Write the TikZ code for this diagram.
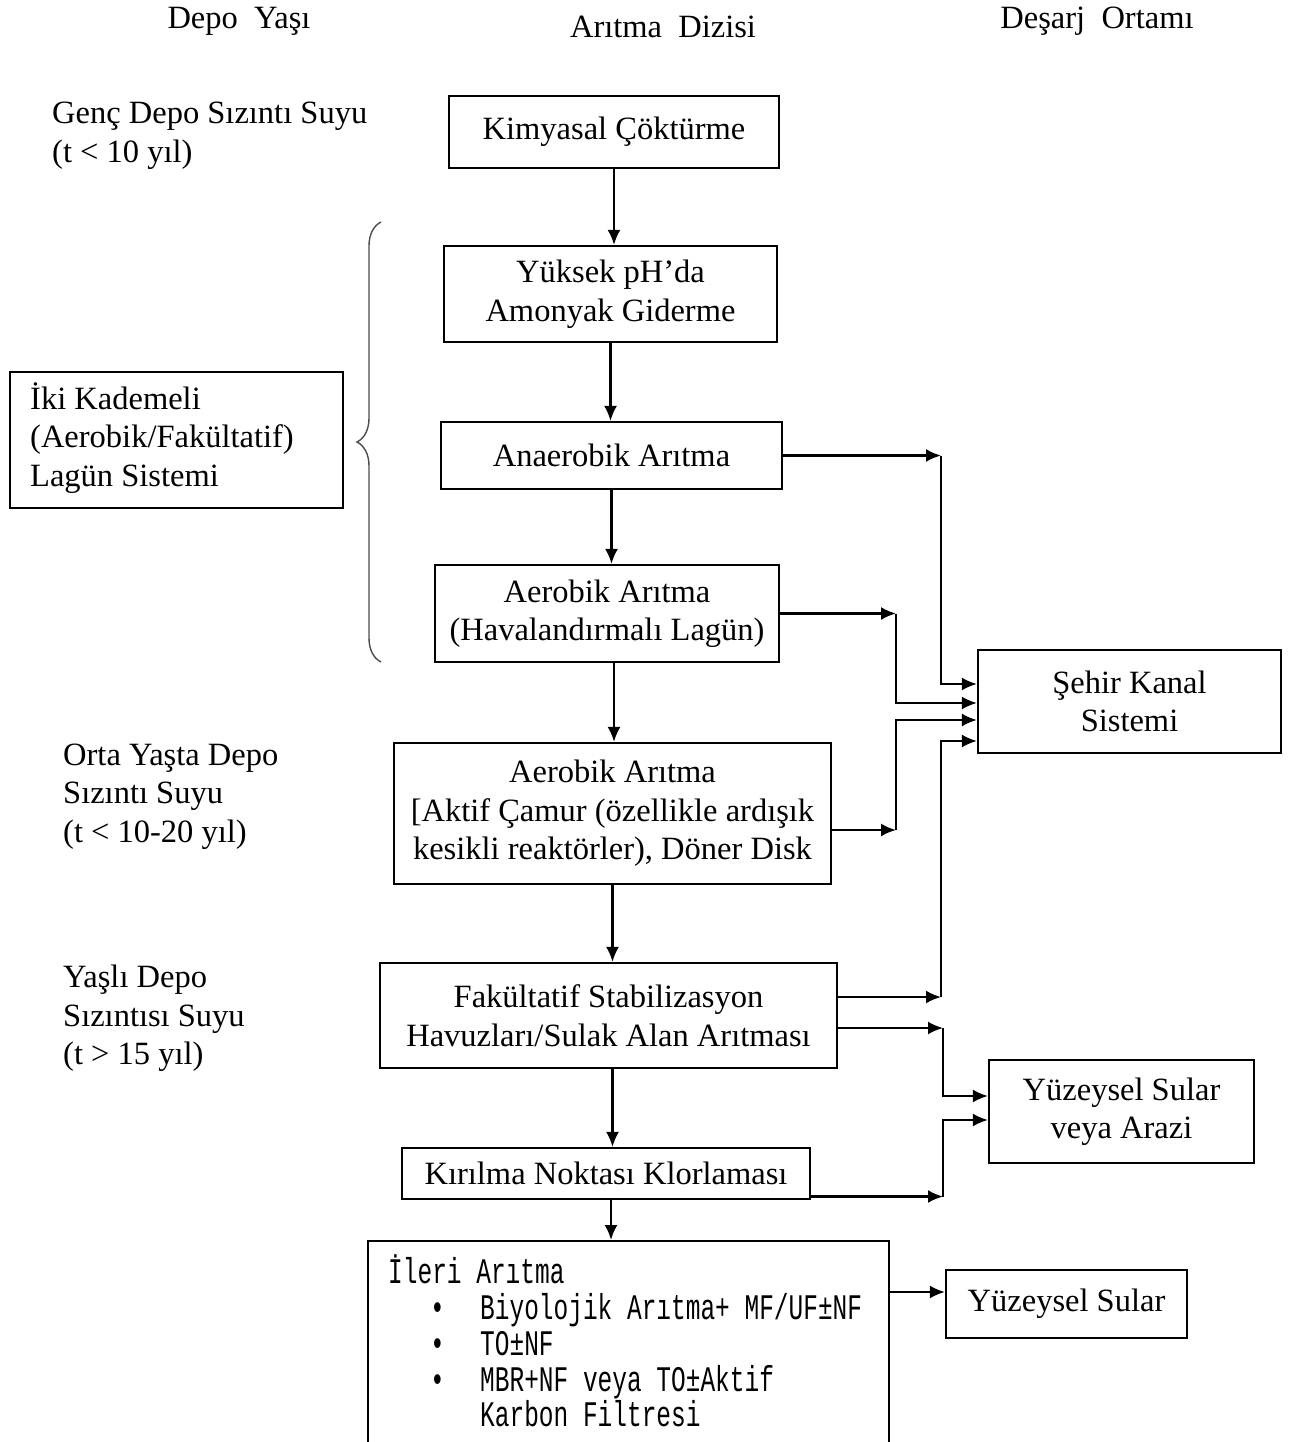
\documentclass[tikz,border=0pt]{standalone}
\usepackage{fontspec}
\setmainfont{Liberation Serif}
\newfontfamily\codefont[FakeStretch=0.68]{Liberation Mono}
\usetikzlibrary{arrows.meta,decorations.pathreplacing,calc}

\newcommand{\itembullet}{\makebox[50pt][l]{•}}

\begin{document}
\begin{tikzpicture}[x=1pt,y=-1pt,
  every node/.style={font=\fontsize{32.5}{38.5}\selectfont, inner sep=0pt},
  box/.style={draw, line width=2.2pt, align=center},
  arr/.style={line width=2.2pt, -{Latex[length=15pt,width=13pt]}},
  hdr/.style={anchor=base},
  side/.style={anchor=west, align=left},
]
\useasboundingbox (0,0) rectangle (1299,1442);
\clip (0,0) rectangle (1299,1442);

% column headings
\node[hdr] (h1) at (239,29) {Depo\ \ Yaşı};
\node[hdr] (h2) at (663,38) {Arıtma\ \ Dizisi};
\node[hdr] (h3) at (1097,29) {Deşarj\ \ Ortamı};

% landfill age labels
\node[side] (genc) at (52,135.5) {Genç Depo Sızıntı Suyu\\(t < 10 yıl)};
\node[side] (orta) at (63,796.5) {Orta Yaşta Depo\\Sızıntı Suyu\\(t < 10-20 yıl)};
\node[side] (yasli) at (63,1018.5) {Yaşlı Depo\\Sızıntısı Suyu\\(t > 15 yıl)};

% lagoon system note with brace
\node[box, minimum width=333pt, minimum height=136pt] (iki) at (176.5,440) {};
\node[side] (ikitext) at (30,438) {İki Kademeli\\(Aerobik/Fakültatif)\\Lagün Sistemi};
\draw[line width=1.4pt, draw=black!70, decorate, decoration={brace, amplitude=24pt, aspect=0.5}]
  (381,662) -- (381,222);

% treatment sequence
\node[box, minimum width=330pt, minimum height=72pt] (kim) at (614,132) {Kimyasal Çöktürme};
\node[box, minimum width=333pt, minimum height=96pt] (yuk) at (610.5,294) {Yüksek pH’da\\Amonyak Giderme};
\node[box, minimum width=341pt, minimum height=67pt] (ana) at (611.5,455.5) {Anaerobik Arıtma};
\node[box, minimum width=344pt, minimum height=97pt] (aer) at (607,613.5) {Aerobik Arıtma\\(Havalandırmalı Lagün)};
\node[box, minimum width=437pt, minimum height=141pt] (akt) at (612.5,813.5) {Aerobik Arıtma\\{[}Aktif Çamur (özellikle ardışık\\kesikli reaktörler), Döner Disk};
\node[box, minimum width=457pt, minimum height=105pt] (fak) at (608.5,1015.5) {Fakültatif Stabilizasyon\\Havuzları/Sulak Alan Arıtması};
\node[box, minimum width=408pt, minimum height=51pt] (kir) at (606,1173.5) {Kırılma Noktası Klorlaması};
\node[box, anchor=north west, minimum width=521pt, minimum height=240pt] (ileri) at (367,1240) {};
\node[anchor=west, align=left, font=\codefont\fontsize{36}{35.8}\selectfont] (ileritext) at (388,1341)
  {İleri Arıtma\\
   \hspace*{42pt}\itembullet Biyolojik Arıtma+ MF/UF±NF\\
   \hspace*{42pt}\itembullet TO±NF\\
   \hspace*{42pt}\itembullet MBR+NF veya TO±Aktif\\
   \hspace*{92pt}Karbon Filtresi};

% discharge media
\node[box, minimum width=303pt, minimum height=103pt] (seh) at (1129.5,701.5) {Şehir Kanal\\Sistemi};
\node[box, minimum width=265pt, minimum height=103pt] (yuz) at (1121.5,1111.5) {Yüzeysel Sular\\veya Arazi};
\node[box, minimum width=241pt, minimum height=68pt] (yuz2) at (1066.5,1304) {Yüzeysel Sular};

% main sequence arrows
\draw[arr] (kim.south) -- (kim.south |- yuk.north);
\draw[arr] (yuk.south) -- (yuk.south |- ana.north);
\draw[arr] (ana.south) -- (ana.south |- aer.north);
\draw[arr] ([xshift=7pt]aer.south) -- ([xshift=7pt]aer.south |- akt.north);
\draw[arr] (akt.south) -- (akt.south |- fak.north);
\draw[arr] ([xshift=4pt]fak.south) -- ([xshift=4pt]fak.south |- kir.north);
\draw[arr] ([xshift=5pt]kir.south) -- ([xshift=5pt]kir.south |- ileri.north);

% collector lines
\coordinate (xa) at (941,0);
\coordinate (xb) at (896,0);
\coordinate (xc) at (943,0);

% to the sewer system
\draw[arr] (ana.east) -- (ana.east -| xa);
\draw[arr] (ana.east -| xa) |- ([yshift=17.5pt]seh.west);
\draw[arr] (aer.east) -- (aer.east -| xb);
\draw[arr] (aer.east -| xb) |- ([yshift=-1.5pt]seh.west);
\draw[arr] ([yshift=-16.5pt]akt.east) -- ([yshift=-16.5pt]akt.east -| xb);
\draw[arr] ([yshift=-16.5pt]akt.east -| xb) |- ([yshift=-18.5pt]seh.west);
\draw[arr] ([yshift=18.5pt]fak.east) -- ([yshift=18.5pt]fak.east -| xa);
\draw[arr] ([yshift=18.5pt]fak.east -| xa) |- ([yshift=-39.5pt]seh.west);

% to surface water or land
\draw[arr] ([yshift=-12.5pt]fak.east) -- ([yshift=-12.5pt]fak.east -| xc);
\draw[arr] ([yshift=-12.5pt]fak.east -| xc) |- ([yshift=15.5pt]yuz.west);
\draw[arr] ([yshift=-23pt]kir.east) -- ([yshift=-23pt]kir.east -| xc);
\draw[arr] ([yshift=-23pt]kir.east -| xc) |- ([yshift=-8.5pt]yuz.west);

% to surface water
\draw[arr] ([yshift=12pt]yuz2.west -| ileri.east) -- ([yshift=12pt]yuz2.west);
\end{tikzpicture}
\end{document}
